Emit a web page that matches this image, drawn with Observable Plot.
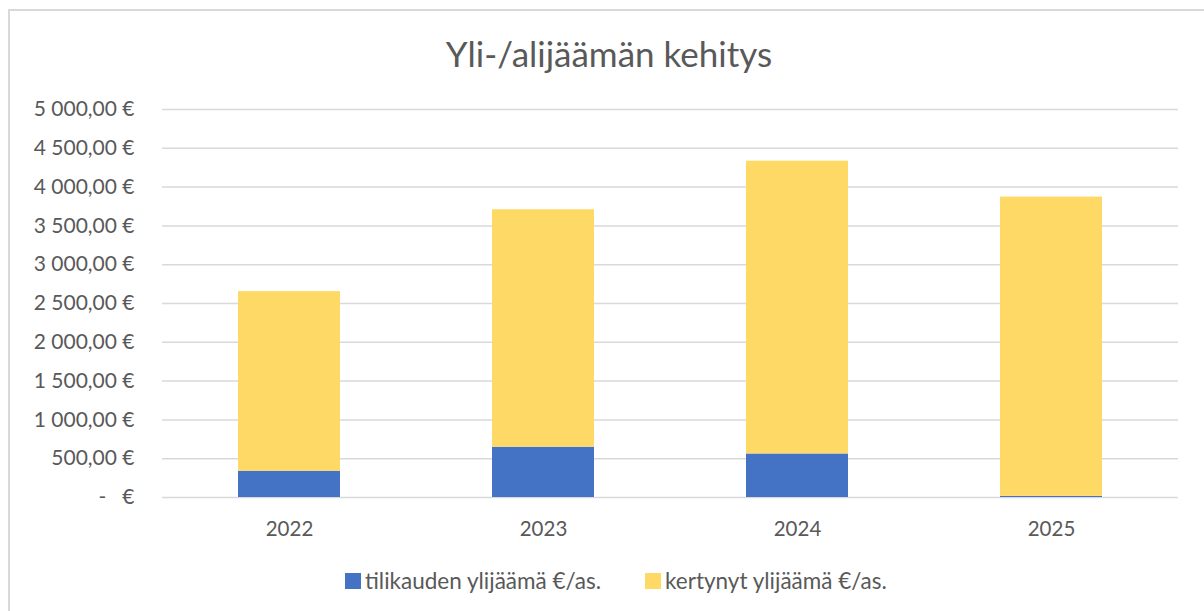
<!DOCTYPE html>
<html>
<head>
<meta charset="utf-8">
<script src="https://cdn.jsdelivr.net/npm/d3@7"></script>
<script src="https://cdn.jsdelivr.net/npm/@observablehq/plot@0.6"></script>
<style>
  html, body { margin: 0; padding: 0; background: #fff; }
  #wrap { position: relative; width: 1204px; height: 611px; overflow: hidden; font-family: Lato, "Open Sans", sans-serif; color: #595959; }
  #frame { position: absolute; left: 8px; top: 9px; width: 1300px; height: 700px; border-left: 2px solid #d9d9d9; border-top: 2px solid #d9d9d9; box-sizing: border-box; pointer-events: none; }
  #title { height: 92px; line-height: 106px; text-align: center; font-size: 35px; padding-left: 14px; box-sizing: border-box; }
  #legend { height: 51px; display: flex; align-items: center; font-size: 22.5px; padding-left: 345px; box-sizing: border-box; margin-top: -5px; }
  .item { display: flex; align-items: center; }
  .sw { width: 16px; height: 16px; margin-right: 4px; }
</style>
</head>
<body>
<div id="wrap">
  <div id="frame"></div>
  <div id="title">Yli-/alijäämän kehitys</div>
  <div id="chart"></div>
  <div id="legend"></div>
</div>
<script>
const years = ["2022", "2023", "2024", "2025"];
const seriesNames = ["tilikauden ylijäämä €/as.", "kertynyt ylijäämä €/as."];
const tilikausi = [339, 648, 561, 15];
const kertynyt = [2314, 3060, 3773, 3856];
const yTicks = [0, 500, 1000, 1500, 2000, 2500, 3000, 3500, 4000, 4500, 5000];
const colors = ["#4472C4", "#FFD966"];

const data = [
  ...years.map((y, i) => ({year: y, series: seriesNames[0], value: tilikausi[i]})),
  ...years.map((y, i) => ({year: y, series: seriesNames[1], value: kertynyt[i]}))
];

const loc = d3.formatLocale({decimal: ",", thousands: "\u00a0", grouping: [3], currency: ["", "\u00a0€"]});
const fmt = loc.format(",.2f");
const yFmt = d => d === 0 ? "-\u00a0\u00a0\u00a0€" : fmt(d) + "\u00a0€";

const chart = Plot.plot({
  width: 1204,
  height: 468,
  marginTop: 17,
  marginBottom: 63,
  marginLeft: 162,
  marginRight: 26,
  style: {fontFamily: "Lato, 'Open Sans', sans-serif", fontSize: "20px", color: "#595959", background: "transparent"},
  x: {domain: years, paddingInner: 0.6, paddingOuter: 0.3, label: null},
  y: {domain: [0, 5000], label: null},
  color: {domain: seriesNames, range: colors},
  marks: [
    Plot.gridY(yTicks, {stroke: "#d9d9d9", strokeOpacity: 1, strokeWidth: 1.5}),
    Plot.barY(data, {x: "year", y: "value", fill: "series"}),
    Plot.axisY(yTicks, {tickSize: 0, tickPadding: 28, tickFormat: yFmt, fill: "#595959", fontSize: 21}),
    Plot.axisX({tickSize: 0, tickPadding: 24, fill: "#595959", fontSize: 20.5})
  ]
});
document.getElementById("chart").appendChild(chart);

const legend = document.getElementById("legend");
seriesNames.forEach((name, i) => {
  const it = document.createElement("div");
  it.className = "item";
  it.style.marginRight = i === 0 ? "44px" : "0";
  const sw = document.createElement("div");
  sw.className = "sw";
  sw.style.background = colors[i];
  const tx = document.createElement("span");
  tx.textContent = name;
  it.appendChild(sw);
  it.appendChild(tx);
  legend.appendChild(it);
});
</script>
</body>
</html>
